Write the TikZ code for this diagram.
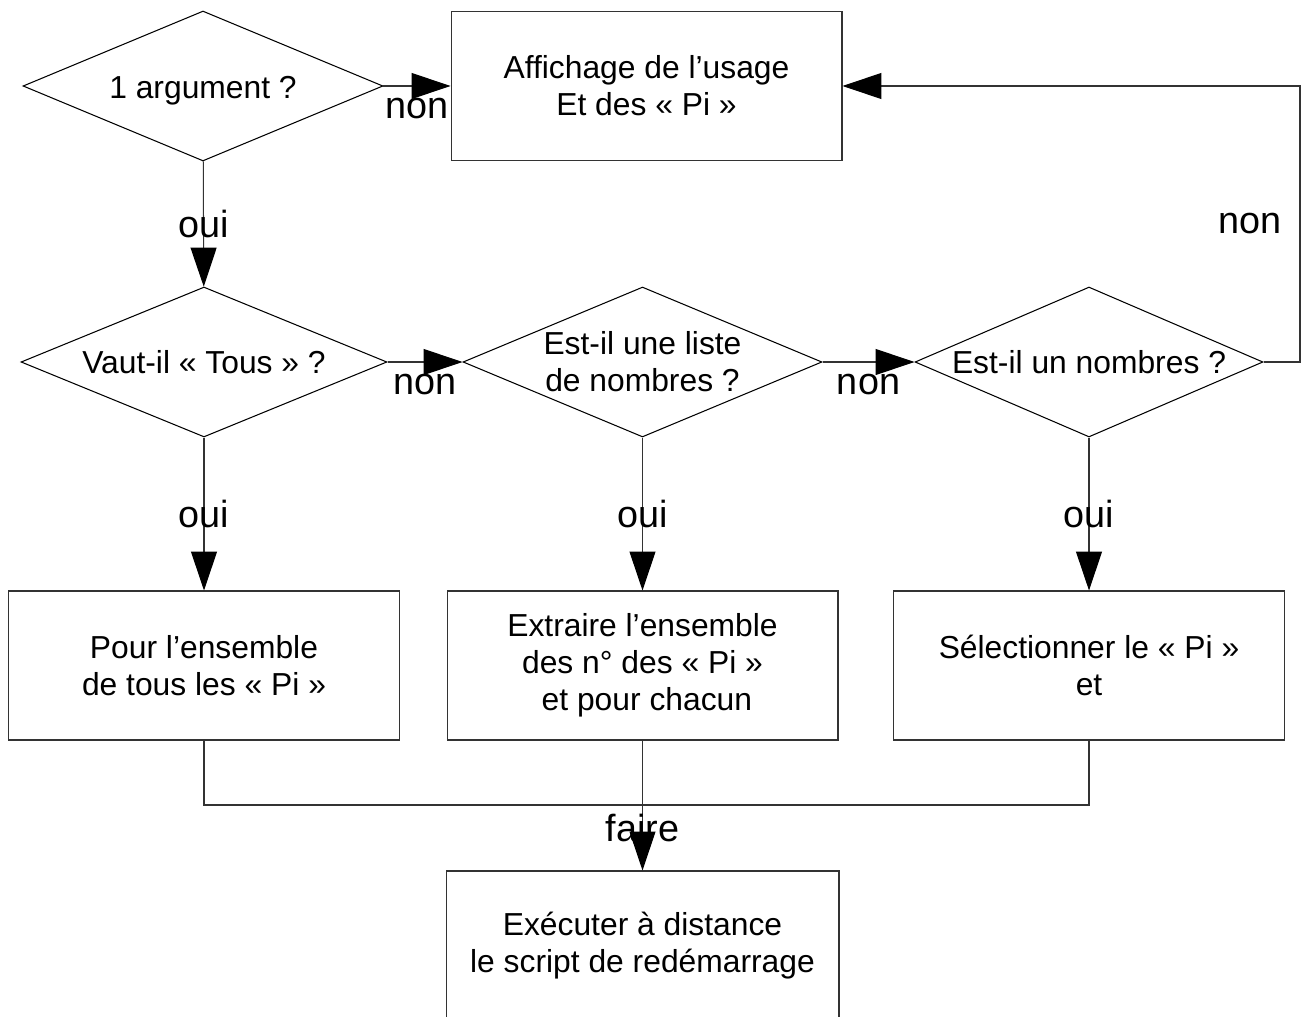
\documentclass[tikz,border=0pt]{standalone}
\usepackage{fontspec}
\setmainfont{Liberation Sans}
\usepackage{tikz}
\usetikzlibrary{arrows.meta}
\usetikzlibrary{shapes.geometric}

\begin{document}
\begin{tikzpicture}[x=0.02cm, y=-0.02cm, font=\fontsize{18.1}{21}\selectfont, line width=0.6pt]
    \tikzstyle{decision} = [diamond, draw, aspect=2.4, inner sep=0pt, minimum height=3cm];
    \tikzstyle{block} = [rectangle, draw=black!80, align=center, minimum width=7.82cm, minimum height=2.98cm];
    \tikzstyle{line} = [draw=black!80, -{Triangle[length=0.78cm, width=0.52cm, color=black]}];
    \tikzstyle{answer} = [font=\fontsize{21.5}{24}\selectfont];
    \useasboundingbox (0,0) rectangle (1301,1017);
    % tests
    \node[decision, minimum width=7.2cm] (arg) at (203,86) {\raisebox{-2.8pt}[\height][\depth]{1 argument ?}};
    \node[decision, minimum width=7.32cm] (tous) at (204,362) {Vaut-il « Tous » ?};
    \node[decision, minimum width=7.18cm, align=center] (liste) at (642.5,362) {Est-il une liste\\de nombres ?};
    \node[decision, minimum width=6.96cm] (nombre) at (1089,362) {Est-il un nombres ?};
    % actions
    \node[block] (usage) at (646.5,86) {Affichage de l’usage\\Et des « Pi »};
    \node[block] (ensTous) at (204,665.5) {Pour l’ensemble\\de tous les « Pi »};
    \node[block] (ensListe) at (642.5,665.5) {Extraire l’ensemble\\des n° des « Pi »\\ \ et pour chacun};
    \node[block] (selPi) at (1089,665.5) {Sélectionner le « Pi »\\et};
    \node[block, minimum width=7.86cm, minimum height=3cm] (exec) at (642.5,946) {Exécuter à distance\\le script de redémarrage};
    \coordinate (retour) at (1300,362);
    \coordinate (faire) at (642.5,805);
    \tikzstyle{every path}=[line]
    \path (arg) -- node[answer, yshift=-0.46cm] {non} (usage);
    \path (arg) -- node[answer] {oui} (tous);
    \path (tous) -- node[answer, yshift=-0.46cm] {non} (liste);
    \path (liste) -- node[answer, yshift=-0.46cm] {non} (nombre);
    \path (nombre) -- (retour) |- node[answer, pos=0.25, xshift=-1cm] {non} (usage);
    \path (tous) -- node[answer] {oui} (ensTous);
    \path (liste) -- node[answer] {oui} (ensListe);
    \path (nombre) -- node[answer] {oui} (selPi);
    \path[-] (ensTous) |- (faire) -| (selPi);
    \path (ensListe) -- node[answer, pos=0.67] {faire} (exec);
\end{tikzpicture}
\end{document}
